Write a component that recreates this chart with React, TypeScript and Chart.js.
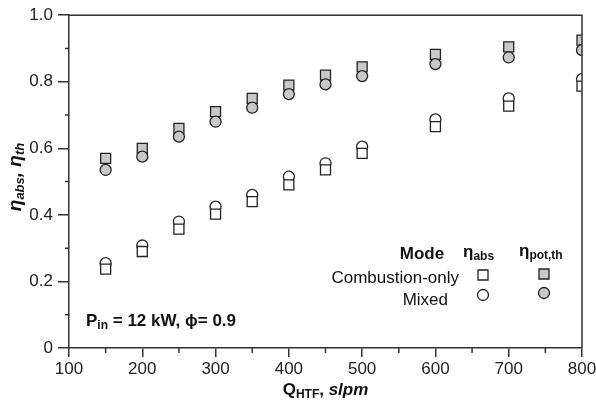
import React, { useEffect, useRef } from "react";
import { Chart, registerables } from "chart.js";

Chart.register(...registerables);

const flows = [150, 200, 250, 300, 350, 400, 450, 500, 600, 700, 800];
const combAbs = [0.237, 0.29, 0.357, 0.402, 0.44, 0.49, 0.535, 0.585, 0.665, 0.727, 0.787];
const mixedAbs = [0.255, 0.308, 0.38, 0.425, 0.46, 0.515, 0.555, 0.605, 0.687, 0.75, 0.808];
const combPotTh = [0.57, 0.6, 0.66, 0.71, 0.75, 0.79, 0.82, 0.845, 0.882, 0.905, 0.925];
const mixedPotTh = [0.535, 0.575, 0.635, 0.68, 0.722, 0.763, 0.792, 0.817, 0.853, 0.873, 0.895];

const xMinorTicks = [150, 250, 350, 450, 550, 650, 750];
const yMinorTicks = [0.1, 0.3, 0.5, 0.7, 0.9];

const FONT = "'Liberation Sans', Arial, Helvetica, sans-serif";
const INK = "#222";
const GRAY = "#c8c8c8";

type Seg = { t: string; size: number; bold?: boolean; italic?: boolean; dy?: number };

function fontOf(s: Seg) {
  return `${s.italic ? "italic " : ""}${s.bold ? "bold " : ""}${s.size}px ${FONT}`;
}
function segWidth(ctx: CanvasRenderingContext2D, segs: Seg[]) {
  let w = 0;
  for (const s of segs) {
    ctx.font = fontOf(s);
    w += ctx.measureText(s.t).width;
  }
  return w;
}
function drawSegs(ctx: CanvasRenderingContext2D, segs: Seg[], x: number, y: number, align: "left" | "center" | "right") {
  const w = segWidth(ctx, segs);
  let cx = align === "left" ? x : align === "center" ? x - w / 2 : x - w;
  ctx.textAlign = "left";
  ctx.textBaseline = "alphabetic";
  for (const s of segs) {
    ctx.font = fontOf(s);
    ctx.fillText(s.t, cx, y + (s.dy || 0));
    cx += ctx.measureText(s.t).width;
  }
}
function drawMarker(ctx: CanvasRenderingContext2D, kind: "sq" | "ci", x: number, y: number, fill: string) {
  ctx.save();
  ctx.fillStyle = fill;
  ctx.strokeStyle = INK;
  ctx.lineWidth = 1.3;
  ctx.beginPath();
  if (kind === "sq") {
    ctx.rect(x - 5, y - 5, 10, 10);
  } else {
    ctx.arc(x, y, 5.5, 0, Math.PI * 2);
  }
  ctx.fill();
  ctx.stroke();
  ctx.restore();
}

const decorPlugin = {
  id: "decor",
  afterDraw(chart: any) {
    const ctx: CanvasRenderingContext2D = chart.ctx;
    const { left, right, top, bottom } = chart.chartArea;
    const xs = chart.scales.x;
    const ys = chart.scales.y;
    ctx.save();
    ctx.strokeStyle = "#333";
    ctx.lineWidth = 1.5;
    // frame top & right
    ctx.beginPath();
    ctx.moveTo(left, top);
    ctx.lineTo(right, top);
    ctx.lineTo(right, bottom);
    ctx.stroke();
    // minor ticks
    ctx.beginPath();
    for (const v of xMinorTicks) {
      const px = xs.getPixelForValue(v);
      ctx.moveTo(px, bottom);
      ctx.lineTo(px, bottom + 5);
    }
    for (const v of yMinorTicks) {
      const py = ys.getPixelForValue(v);
      ctx.moveTo(left - 4, py);
      ctx.lineTo(left, py);
    }
    ctx.stroke();

    ctx.fillStyle = "#111";
    // x title
    drawSegs(ctx, [
      { t: "Q", size: 17, bold: true },
      { t: "HTF", size: 12, bold: true, dy: 3 },
      { t: ", ", size: 17, bold: true },
      { t: "slpm", size: 17, bold: true, italic: true },
    ], (left + right) / 2, 395, "center");

    // y title
    ctx.save();
    ctx.translate(21, 177);
    ctx.rotate(-Math.PI / 2);
    drawSegs(ctx, [
      { t: "η", size: 19, bold: true, italic: true },
      { t: "abs", size: 13, bold: true, italic: true, dy: 3 },
      { t: ", η", size: 19, bold: true, italic: true },
      { t: "th", size: 13, bold: true, italic: true, dy: 3 },
    ], 0, 0, "center");
    ctx.restore();

    // annotation
    drawSegs(ctx, [
      { t: "P", size: 17, bold: true },
      { t: "in", size: 12, bold: true, dy: 3 },
      { t: " = 12 kW, ϕ= 0.9", size: 17, bold: true },
    ], 86, 326, "left");

    // legend
    drawSegs(ctx, [{ t: "Mode", size: 17, bold: true }], 422, 259, "center");
    drawSegs(ctx, [
      { t: "η", size: 17, bold: true },
      { t: "abs", size: 12, bold: true, dy: 3 },
    ], 463, 257, "left");
    drawSegs(ctx, [
      { t: "η", size: 17, bold: true },
      { t: "pot,th", size: 12, bold: true, dy: 3 },
    ], 519, 256, "left");
    drawSegs(ctx, [{ t: "Combustion-only", size: 17 }], 459, 283, "right");
    drawSegs(ctx, [{ t: "Mixed", size: 17 }], 448, 305, "right");
    drawMarker(ctx, "sq", 483, 275, "#fff");
    drawMarker(ctx, "sq", 544, 274, GRAY);
    drawMarker(ctx, "ci", 483, 295, "#fff");
    drawMarker(ctx, "ci", 544, 293, GRAY);
    ctx.restore();
  },
};

function pts(vals: number[]) {
  return flows.map((x, i) => ({ x, y: vals[i] }));
}

export default function App() {
  const ref = useRef<HTMLCanvasElement>(null);
  useEffect(() => {
    if (!ref.current) return;
    const common = { borderColor: INK, borderWidth: 1.3, showLine: false };
    const chart = new Chart(ref.current, {
      type: "scatter",
      data: {
        datasets: [
          { label: "Mixed ηpot,th", data: pts(mixedPotTh), pointStyle: "circle", pointRadius: 5.5, backgroundColor: GRAY, ...common },
          { label: "Combustion-only ηabs", data: pts(combAbs), pointStyle: "rect", pointRadius: 7.07, backgroundColor: "#fff", ...common },
          { label: "Combustion-only ηpot,th", data: pts(combPotTh), pointStyle: "rect", pointRadius: 7.07, backgroundColor: GRAY, ...common },
          { label: "Mixed ηabs", data: pts(mixedAbs), pointStyle: "circle", pointRadius: 5.5, backgroundColor: "#fff", ...common },
        ],
      },
      options: {
        animation: false,
        responsive: false,
        devicePixelRatio: 1,
        layout: { padding: { top: 15, right: 0, left: 0, bottom: 0 } },
        plugins: { legend: { display: false }, tooltip: { enabled: false } },
        scales: {
          x: {
            type: "linear",
            min: 100,
            max: 800,
            afterFit: (s: any) => { s.height = 53; s.paddingRight = 14; s.paddingLeft = 0; },
            ticks: { stepSize: 100, color: INK, font: { size: 17, family: FONT }, padding: 2, maxRotation: 0 },
            grid: { drawOnChartArea: false, tickLength: 9, color: "#333", lineWidth: 1.5 },
            border: { color: "#333", width: 1.5 },
          },
          y: {
            type: "linear",
            min: 0,
            max: 1,
            afterFit: (s: any) => { s.width = 69; },
            ticks: {
              stepSize: 0.2,
              color: INK,
              font: { size: 17, family: FONT },
              padding: 5,
              callback: (v: any) => (Number(v) === 0 ? "0" : Number(v).toFixed(1)),
            },
            grid: { drawOnChartArea: false, tickLength: 11, color: "#333", lineWidth: 1.5 },
            border: { color: "#333", width: 1.5 },
          },
        },
      },
      plugins: [decorPlugin],
    } as any);
    return () => chart.destroy();
  }, []);
  return (
    <div style={{ position: "fixed", left: 0, top: 0, width: 596, height: 401, background: "#fff" }}>
      <canvas ref={ref} width={596} height={401} />
    </div>
  );
}
